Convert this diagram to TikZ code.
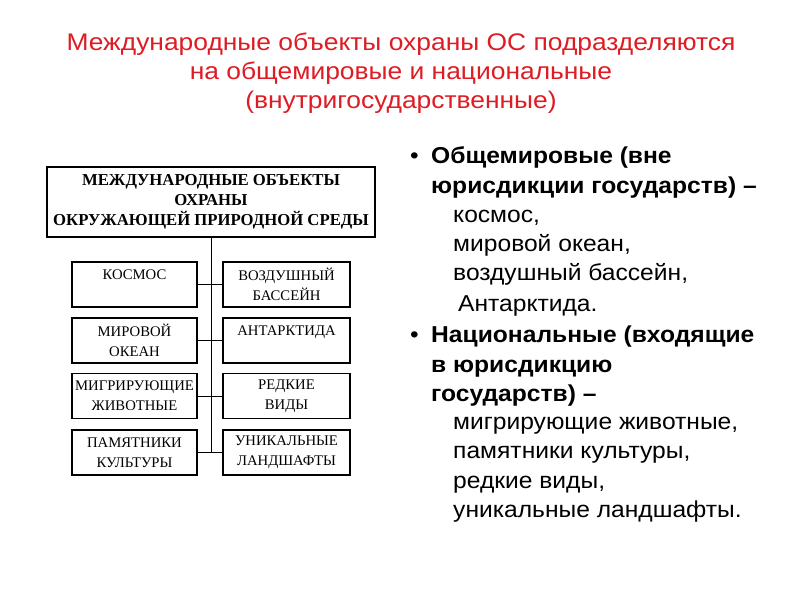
\documentclass[tikz,border=0pt]{standalone}
\usepackage{fontspec}
\setmainfont[FakeStretch=1.07]{Liberation Sans}
\newfontfamily\titlefont[FakeStretch=1.1]{Liberation Sans}
\newfontfamily\boxfont{Liberation Serif}
\usetikzlibrary{positioning}
\definecolor{titlered}{RGB}{222,28,36}

\begin{document}
\begin{tikzpicture}[x=1pt,y=-1pt,
    box/.style={draw,line width=1.5pt,minimum width=125pt,minimum height=45pt,
        align=center,inner sep=1pt,font=\boxfont\fontsize{14.7}{20}\selectfont},
    link/.style={line width=0.8pt},
    bold/.style={anchor=base west,inner sep=0pt,font=\bfseries\fontsize{23}{28}\selectfont},
    plain/.style={anchor=base west,inner sep=0pt,font=\fontsize{23}{28}\selectfont}]
    \useasboundingbox[fill=white] (0,0) rectangle (800,600);
    % Заголовок
    \node[align=center,text=titlered,font=\titlefont\fontsize{24}{29}\selectfont,inner sep=0pt]
        (title) at (401,73) {Международные объекты охраны ОС подразделяются\\
        на общемировые и национальные\\(внутригосударственные)};
    % Главный блок
    \node[box,minimum width=328pt,minimum height=70pt,
        font=\boxfont\bfseries\fontsize{16.7}{20}\selectfont] (main) at (211,202)
        {МЕЖДУНАРОДНЫЕ ОБЪЕКТЫ\\ОХРАНЫ\\ОКРУЖАЮЩЕЙ ПРИРОДНОЙ СРЕДЫ};
    % Блоки объектов
    \foreach \n/\y/\l/\r in {1/284.5/{КОСМОС\\~}/{ВОЗДУШНЫЙ\\БАССЕЙН},
                            2/340.5/{МИРОВОЙ\\ОКЕАН}/{АНТАРКТИДА\\~},
                            3/396/{МИГРИРУЮЩИЕ\\ЖИВОТНЫЕ}/{РЕДКИЕ\\ВИДЫ},
                            4/452.5/{ПАМЯТНИКИ\\КУЛЬТУРЫ}/{УНИКАЛЬНЫЕ\\ЛАНДШАФТЫ}}{
        \node[box] (l\n) at (134.5,\y) {\l};
        \node[box,minimum width=127pt] (r\n) at (286.5,\y) {\r};
    }
    % Связи
    \draw[link] (main.south) -- (main.south |- l4.east);
    \foreach \n in {1,...,4}
        \draw[link] (l\n.east) -- (r\n.west);
    % Маркеры списка
    \foreach \n/\y in {1/163, 2/342}
        \node[plain] (dot\n) at (410,\y) {•};
    % Жирные строки
    \foreach \n/\y/\t in {1/163/{Общемировые (вне},
                         2/193/{юрисдикции государств) –},
                         3/342/{Национальные (входящие},
                         4/372/{в юрисдикцию},
                         5/401/{государств) –}}
        \node[bold] (head\n) at (431,\y) {\t};
    % Обычные строки
    \foreach \n/\x/\y/\t in {1/453/222/{космос,},
                            2/453/251/{мировой океан,},
                            3/453/280/{воздушный бассейн,},
                            4/458/311/{Антарктида.},
                            5/453/429/{мигрирующие животные,},
                            6/453/458/{памятники культуры,},
                            7/453/488/{редкие виды,},
                            8/453/517/{уникальные ландшафты.}}
        \node[plain] (item\n) at (\x,\y) {\t};
\end{tikzpicture}
\end{document}
